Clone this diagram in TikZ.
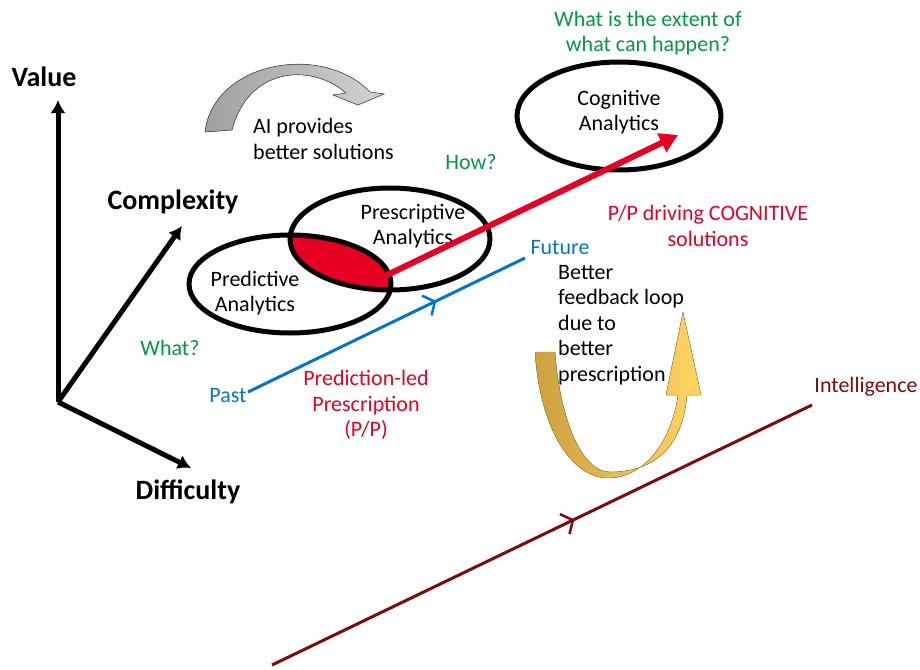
\documentclass[tikz,border=0pt]{standalone}
\usepackage{fontspec}
\setmainfont{Carlito}
\usetikzlibrary{arrows.meta,shapes.geometric,decorations.markings}

\definecolor{qgreen}{RGB}{0,153,68}
\definecolor{qred}{RGB}{232,0,35}
\definecolor{qblue}{RGB}{0,118,210}
\definecolor{qmaroon}{RGB}{128,10,10}
\definecolor{qgold}{RGB}{255,214,98}
\definecolor{qgolddark}{RGB}{205,160,65}

\tikzset{
  txt/.style={inner sep=0pt, font=\fontsize{22}{25.5}\selectfont, align=center},
  axislabel/.style={inner sep=0pt, font=\fontsize{28}{32}\selectfont\bfseries},
  axis/.style={line width=5pt, -{Latex[length=13pt,width=15pt]}},
  bubble/.style={ellipse, draw, line width=5pt, inner sep=0pt},
  midarrow/.style={postaction={decorate, decoration={markings,
      mark=at position #1 with {\arrow{Straight Barb[length=9pt,width=22pt,line width=2.5pt]}}}}}
}

\begin{document}
\begin{tikzpicture}[x=1pt, y=-1pt]
  \useasboundingbox (0,0) rectangle (920,669);

  % axes
  \coordinate (o) at (58,402);
  \coordinate (vtip) at (58,100);
  \coordinate (ctip) at (182,226);
  \coordinate (dtip) at (191,468);
  \draw[axis] (o) -- (vtip);
  \draw[axis] (o) -- (ctip);
  \draw[axis] (o) -- (dtip);
  \node[axislabel] (value) at (44,77) {Value};
  \node[axislabel] (complexity) at (173,202) {Complexity};
  \node[axislabel] (difficulty) at (188,492) {Difficulty};

  % gray curved arrow
  \fill[left color=gray!75, right color=gray!35, draw=gray!60!black, line width=0.6pt]
    (205,132) .. controls (213,62) and (322,42) .. (370,92) -- (384,94) -- (358,105)
    -- (333,95) -- (346,93) .. controls (310,62) and (248,68) .. (232,130) -- cycle;
  \node[txt, align=left, anchor=west] (ai) at (253,139) {AI provides\\better solutions};

  % analytics bubbles
  \coordinate (predc) at (290,284);
  \coordinate (presc) at (390,239);
  \begin{scope}
    \clip (predc) ellipse [x radius=101, y radius=49];
    \fill[qred] (presc) ellipse [x radius=100, y radius=51];
  \end{scope}
  \node[bubble, minimum width=202pt, minimum height=98pt] (pred) at (predc) {};
  \node[bubble, minimum width=200pt, minimum height=102pt] (presc) at (presc) {};
  \node[bubble, minimum width=204pt, minimum height=108pt] (cog) at (619,116) {};
  \node[txt] (predtxt) at (255,293) {Predictive\\Analytics};
  \node[txt] (presctxt) at (413,226) {Prescriptive\\Analytics};
  \node[txt] (cogtxt) at (619,112) {Cognitive\\Analytics};

  % red arrow
  \coordinate (lens) at (383,277);
  \coordinate (cogend) at (678,135);
  \draw[qred, line width=6pt, -{Triangle[length=18pt,width=20pt]}] (lens) -- (cogend);
  \node[txt, text=qred] (driving) at (708,226) {P/P driving COGNITIVE\\solutions};

  % questions
  \node[txt, text=qgreen] (how) at (471,162) {How?};
  \node[txt, text=qgreen] (what) at (170,348) {What?};
  \node[txt, text=qgreen] (extent) at (648,33) {What is the extent of\\what can happen?};

  % past to future
  \node[txt, text=qblue] (past) at (228,396) {Past};
  \node[txt, text=qblue] (future) at (560,248) {Future};
  \coordinate (p0) at (248,392);
  \coordinate (f0) at (525,258);
  \draw[qblue, line width=3pt, midarrow=0.68] (p0) -- (f0);
  \node[txt, text=qred] (pp) at (366,405) {Prediction-led\\Prescription\\(P/P)};

  % feedback loop
  \fill[left color=qgolddark, right color=qgold, draw=qgolddark!80!black, line width=0.4pt]
    (535,352) .. controls (540,430) and (572,478) .. (608,478)
    .. controls (645,478) and (672,440) .. (678,395) -- (666,395) -- (683,312) -- (701,395) -- (687,395)
    .. controls (682,452) and (650,472) .. (610,472)
    .. controls (582,472) and (560,420) .. (555,352) -- cycle;
  \node[txt, align=left, anchor=west] (loop) at (558,325)
    {Better\\feedback loop\\due to\\better\\prescription};

  % intelligence
  \node[txt, text=qmaroon] (intel) at (866,387) {Intelligence};
  \coordinate (i0) at (272,665);
  \coordinate (i1) at (812,405);
  \draw[qmaroon, line width=3pt, midarrow=0.56] (i0) -- (i1);
\end{tikzpicture}
\end{document}
